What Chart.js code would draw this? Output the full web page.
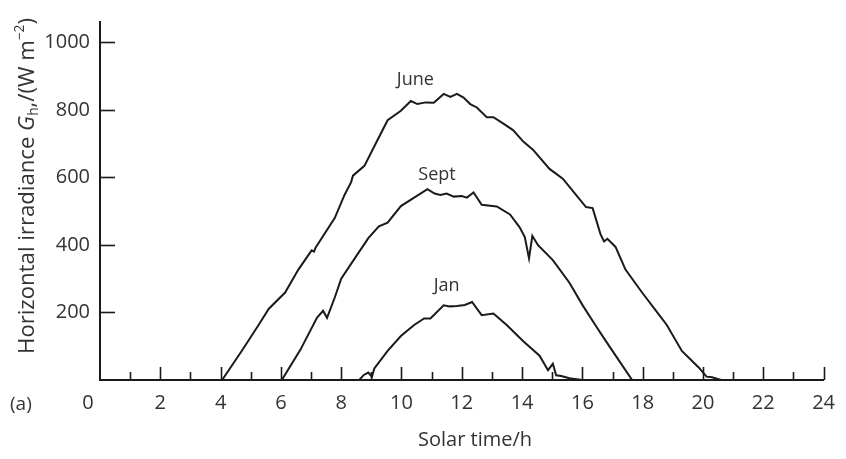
<!DOCTYPE html>
<html><head><meta charset="utf-8">
<style>html,body{margin:0;padding:0;background:#fff}</style>
<script src="https://cdn.jsdelivr.net/npm/chart.js@4.4.1/dist/chart.umd.min.js"></script>
</head><body>
<canvas id="c" width="846" height="459"></canvas>
<script>
// ---- data ----
const juneHours  = [4.05,4.7,5.26,5.6,6.14,6.58,7.02,7.1,7.15,7.79,8.11,8.33,8.39,8.77,9.1,9.54,9.98,10.31,10.53,10.8,11.07,11.4,11.62,11.84,12.06,12.28,12.5,12.83,13.05,13.38,13.7,14.04,14.36,14.91,15.35,15.79,16.12,16.34,16.6,16.72,16.83,17.1,17.43,17.98,18.64,18.8,19.3,19.85,20.12,20.3,20.6];
const juneValues = [0,86,163,211,259,327,384,380,392,480,548,586,605,634,692,769,797,826,817,822,821,847,838,847,836,817,807,778,778,759,740,706,682,625,596,548,512,509,432,410,418,394,327,259,182,163,86,38,10,8,0];
const septHours  = [6.03,6.65,7.2,7.4,7.53,7.79,8.0,8.45,8.9,9.25,9.54,9.98,10.42,10.86,11.1,11.29,11.5,11.73,12.0,12.17,12.39,12.66,13.16,13.6,13.92,14.09,14.23,14.34,14.53,15.02,15.57,16.01,16.45,16.78,17.21,17.65];
const septValues = [0,90,185,205,184,245,300,360,420,455,466,515,540,565,552,548,552,543,545,540,555,519,514,490,452,423,360,427,399,355,288,221,160,115,58,0];
const janHours   = [8.6,8.75,8.9,9.02,9.1,9.54,9.98,10.42,10.75,10.96,11.4,11.6,11.84,12.1,12.34,12.66,13.05,13.49,14.04,14.58,14.86,15.02,15.13,15.3,15.57,16.0];
const janValues  = [0,15,22,10,34,86,130,163,182,182,221,218,219,222,231,192,197,163,115,72,29,48,14,12,5,0];
const seriesNames = ['June','Sept','Jan'];
const labelAnchors = [[10.46,888],[11.18,608],[11.5,280]]; // [hour, value] where each curve name sits
const xTickStep = 2, xMax = 24;
const yTickValues = [200,400,600,800,1000];
const yMax = 1060;
const xTitle = 'Solar time/h';
const panelTag = '(a)';

const FONT = '"Open Sans", Lato, sans-serif';
const TEXT = '#333333';
const LINE = '#1a1a1a';

function pts(h, v){ return h.map((x,i)=>({x:x, y:v[i]})); }

const decor = {
  id:'decor',
  afterDraw(chart){
    const ctx = chart.ctx, xs = chart.scales.x, ys = chart.scales.y, ca = chart.chartArea;
    ctx.save();
    ctx.strokeStyle = LINE; ctx.lineWidth = 1.6;
    // inward y ticks
    ys.ticks.forEach(t=>{
      const py = Math.round(ys.getPixelForValue(t.value))+0.5;
      ctx.beginPath(); ctx.moveTo(ca.left, py); ctx.lineTo(ca.left+15, py); ctx.stroke(); });
    // inward x ticks every hour
    for(let h=1; h<=xMax; h++){
      const px = Math.round(xs.getPixelForValue(h))+0.5;
      const len = (h%2===0)?13:8;
      ctx.beginPath(); ctx.moveTo(px, ca.bottom); ctx.lineTo(px, ca.bottom-len); ctx.stroke();
    }
    ctx.fillStyle = TEXT;
    ctx.textBaseline = 'middle';
    // curve names
    ctx.font = '18px ' + FONT; ctx.textAlign = 'center';
    seriesNames.forEach((n,i)=>{
      ctx.fillText(n, xs.getPixelForValue(labelAnchors[i][0]), ys.getPixelForValue(labelAnchors[i][1]));
    });
    // origin "0"
    ctx.font = '20px ' + FONT;
    ctx.fillText('0', xs.getPixelForValue(0)-12, ca.bottom+23);
    // x title
    ctx.fillText(xTitle, 475, 440);
    // panel tag
    ctx.textAlign = 'left';
    ctx.font = '19px ' + FONT;
    ctx.fillText(panelTag, 10, 405);
    // y title with italic G, subscript h, superscript -2
    const parts = [
      {t:'Horizontal irradiance ', s:1, it:false, dy:0},
      {t:'G', s:1, it:true, dy:0},
      {t:'h', s:0.62, it:false, dy:0.28},
      {t:',/(W m', s:1, it:false, dy:0},
      {t:'\u22122', s:0.62, it:false, dy:-0.36},
      {t:')', s:1, it:false, dy:0}
    ];
    const base = 20, target = 336;
    const measure = (sz)=>{ let tot=0; parts.forEach(p=>{ ctx.font=(p.it?'italic ':'')+(sz*p.s)+'px '+FONT; p.w=ctx.measureText(p.t).width; tot+=p.w; }); return tot; };
    const sz = base*target/measure(base);
    const total = measure(sz);
    ctx.translate(28, 186);
    ctx.rotate(-Math.PI/2);
    let x0 = -total/2;
    parts.forEach(p=>{ ctx.font=(p.it?'italic ':'')+(sz*p.s)+'px '+FONT; ctx.fillText(p.t, x0, p.dy*sz); x0+=p.w; });
    ctx.restore();
  }
};

new Chart(document.getElementById('c'), {
  type:'line',
  data:{ datasets:[
    {label:seriesNames[0], data:pts(juneHours,juneValues)},
    {label:seriesNames[1], data:pts(septHours,septValues)},
    {label:seriesNames[2], data:pts(janHours,janValues)}
  ].map(d=>Object.assign(d,{borderColor:LINE, borderWidth:2, pointRadius:0, tension:0, fill:false}))},
  options:{
    responsive:false, animation:false, events:[],
    layout:{padding:{top:13, right:16, left:0, bottom:0}},
    plugins:{legend:{display:false}, tooltip:{enabled:false}},
    scales:{
      x:{type:'linear', min:0, max:xMax,
         grid:{display:false, drawTicks:false},
         border:{display:true, color:LINE, width:2},
         ticks:{stepSize:xTickStep, padding:11, color:TEXT, font:{family:FONT, size:20},
                maxRotation:0, autoSkip:false,
                callback:(v)=> v===0 ? '' : String(v)},
         afterFit:(s)=>{ s.height = 79; }},
      y:{type:'linear', min:0, max:yMax,
         grid:{display:false, drawTicks:false},
         border:{display:true, color:LINE, width:2},
         ticks:{padding:10, color:TEXT, font:{family:FONT, size:20}, autoSkip:false,
                callback:(v)=> String(v)},
         afterBuildTicks:(s)=>{ s.ticks = yTickValues.map(v=>({value:v})); },
         afterFit:(s)=>{ s.width = 100; }}
    }
  },
  plugins:[decor]
});
</script>
</body></html>
